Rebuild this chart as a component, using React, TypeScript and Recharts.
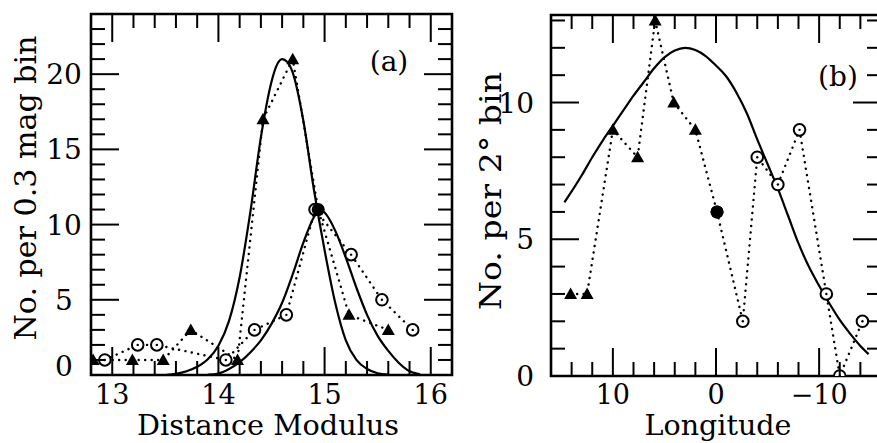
import React from 'react';
import { ComposedChart, Line, XAxis, YAxis, ReferenceArea } from 'recharts';

const FONT = '"DejaVu Serif", "Liberation Serif", serif';

// ---------- Panel (a): distance modulus ----------
const dmTriX = [12.82, 13.19, 13.48, 13.74, 14.18, 14.42, 14.7, 14.94, 15.23, 15.6];
const dmTriN = [1, 1, 1, 3, 1, 17, 21, 11, 4, 3];
const dmCircX = [12.93, 13.24, 13.42, 14.07, 14.34, 14.64, 14.91, 15.25, 15.54, 15.83];
const dmCircN = [1, 2, 2, 1, 3, 4, 11, 8, 5, 3];
const dmFit1X = [13.5, 13.6, 13.7, 13.8, 13.9, 14.0, 14.1, 14.2, 14.3, 14.4, 14.5, 14.55, 14.6, 14.65, 14.7, 14.8, 14.9, 15.0, 15.1, 15.2, 15.3, 15.4, 15.5, 15.6];
const dmFit1N = [0, 0.08, 0.25, 0.55, 1.05, 1.95, 3.6, 6.5, 10.8, 15.8, 19.5, 20.6, 21.0, 20.8, 20.1, 16.9, 12.3, 8.3, 4.8, 2.3, 1.0, 0.4, 0.12, 0.02];
const dmFit2X = [13.9, 14.0, 14.1, 14.2, 14.3, 14.4, 14.5, 14.6, 14.7, 14.8, 14.9, 14.95, 15.0, 15.1, 15.2, 15.3, 15.4, 15.5, 15.6, 15.7, 15.8, 15.9];
const dmFit2N = [0.02, 0.1, 0.4, 0.85, 1.5, 2.3, 3.4, 4.8, 6.7, 8.8, 10.5, 11.0, 10.8, 9.6, 7.8, 5.8, 4.0, 2.6, 1.6, 0.8, 0.25, 0.05];
const dmXDomain = [12.8, 16.2];
const dmYDomain = [0, 24];
const dmXTicks = [13, 13.2, 13.4, 13.6, 13.8, 14, 14.2, 14.4, 14.6, 14.8, 15, 15.2, 15.4, 15.6, 15.8, 16];
const dmXLabels = [13, 14, 15, 16];
const dmYTicks = [0, 1, 2, 3, 4, 5, 6, 7, 8, 9, 10, 11, 12, 13, 14, 15, 16, 17, 18, 19, 20, 21, 22, 23];
const dmYLabels = [0, 5, 10, 15, 20];

// ---------- Panel (b): longitude ----------
const lonTriX = [14.1, 12.5, 10.0, 7.6, 5.9, 4.1, 2.0, -0.1];
const lonTriN = [3, 3, 9, 8, 13, 10, 9, 6];
const lonCircX = [-0.1, -2.6, -4.0, -6.0, -8.1, -10.7, -12.0, -14.2];
const lonCircN = [6, 2, 8, 7, 9, 3, 0, 2];
const lonFitX = [14.7, 14, 13, 12, 11, 10, 9, 8, 7, 6, 5, 4, 3, 2, 1, 0, -1, -2, -3, -4, -5, -6, -7, -8, -9, -10, -11, -12, -13, -14, -14.8];
const lonFitN = [6.35, 6.75, 7.35, 8.0, 8.6, 9.15, 9.7, 10.25, 10.75, 11.25, 11.65, 11.9, 12.0, 11.92, 11.7, 11.35, 10.95, 10.35, 9.6, 8.65, 7.75, 6.85, 5.85, 4.85, 4.0, 3.3, 2.65, 2.05, 1.55, 1.1, 0.8];
const lonXDomain = [-16, 16];
const lonYDomain = [0, 13.2];
const lonXTicks = [-14, -12, -10, -8, -6, -4, -2, 0, 2, 4, 6, 8, 10, 12, 14];
const lonXLabels = [-10, 0, 10];
const lonYTicks = [0, 1, 2, 3, 4, 5, 6, 7, 8, 9, 10, 11, 12, 13];
const lonYLabels = [0, 5, 10];

const zip = (xs: number[], ys: number[]) => xs.map((x, i) => ({ x, y: ys[i] }));

const near = (v: number, list: number[]) => list.some((t) => Math.abs(t - v) < 1e-6);
const fmt = (v: number) => (v < 0 ? '\u2212' + String(-v) : String(v));

type Box = { left: number; right: number; top: number; bottom: number };

const makeXTick = (box: Box, labels: number[], baseline: number) => (props: any) => {
  const { x, payload } = props;
  const v = payload.value;
  const major = near(v, labels);
  const len = major ? 28 : 14;
  return (
    <g key={`xt-${v}`}>
      <line x1={x} x2={x} y1={box.bottom} y2={box.bottom - len} stroke="#000" strokeWidth={2} />
      <line x1={x} x2={x} y1={box.top} y2={box.top + len} stroke="#000" strokeWidth={2} />
      {major && (
        <text x={x} y={baseline} textAnchor="middle" fontFamily={FONT} fontSize={27} fill="#000">
          {fmt(v)}
        </text>
      )}
    </g>
  );
};

const makeYTick = (box: Box, labels: number[], lx: number, anchor: string, zeroShift: number) => (props: any) => {
  const { y, payload } = props;
  const v = payload.value;
  const major = near(v, labels);
  const len = major ? 28 : 14;
  return (
    <g key={`yt-${v}`}>
      <line x1={box.left} x2={box.left + len} y1={y} y2={y} stroke="#000" strokeWidth={2} />
      <line x1={box.right} x2={box.right - len} y1={y} y2={y} stroke="#000" strokeWidth={2} />
      {major && (
        <text x={lx} y={y + 10 - (v === 0 ? zeroShift : 0)} textAnchor={anchor as any} fontFamily={FONT} fontSize={28} fill="#000">
          {fmt(v)}
        </text>
      )}
    </g>
  );
};

const Tri = (cx: number, cy: number, key: string) => (
  <path key={key} d={`M${cx},${cy - 6.5} L${cx + 6.5},${cy + 5} L${cx - 6.5},${cy + 5} Z`} fill="#000" />
);
const OpenC = (cx: number, cy: number, key: string) => (
  <g key={key}>
    <circle cx={cx} cy={cy} r={5.8} fill="#fff" stroke="#000" strokeWidth={2} />
    <circle cx={cx} cy={cy} r={1.2} fill="#000" />
  </g>
);
const FillC = (cx: number, cy: number, key: string) => (
  <circle key={key} cx={cx} cy={cy} r={6.5} fill="#000" />
);

const dotLine = {
  stroke: '#000',
  strokeWidth: 2.4,
  strokeDasharray: '0.1 6.4',
  strokeLinecap: 'round' as const,
};

const boxA: Box = { left: 91, right: 452, top: 14, bottom: 375 };
const boxB: Box = { left: 91, right: 421, top: 15, bottom: 376 };

function PanelA() {
  const tri = zip(dmTriX, dmTriN);
  const circ = zip(dmCircX, dmCircN);
  const fit1 = zip(dmFit1X, dmFit1N);
  const fit2 = zip(dmFit2X, dmFit2N);
  return (
    <ComposedChart width={470} height={443} margin={{ top: 14, right: 18, bottom: 67, left: 90 }}>
      <XAxis
        type="number"
        dataKey="x"
        domain={dmXDomain}
        allowDataOverflow
        ticks={dmXTicks}
        interval={0}
        height={1}
        axisLine={false}
        tickLine={false}
        tick={makeXTick(boxA, dmXLabels, 404)}
      />
      <YAxis
        type="number"
        dataKey="y"
        domain={dmYDomain}
        allowDataOverflow
        ticks={dmYTicks}
        interval={0}
        width={1}
        axisLine={false}
        tickLine={false}
        tick={makeYTick(boxA, dmYLabels, 64, 'middle', 9)}
      />
      <Line data={fit1} dataKey="y" type="monotone" stroke="#000" strokeWidth={2.2} dot={false} isAnimationActive={false} />
      <Line data={fit2} dataKey="y" type="monotone" stroke="#000" strokeWidth={2.2} dot={false} isAnimationActive={false} />
      <Line
        data={circ}
        dataKey="y"
        type="linear"
        {...dotLine}
        isAnimationActive={false}
        dot={(p: any) => OpenC(p.cx, p.cy, `ca-${p.index}`)}
      />
      <Line
        data={tri}
        dataKey="y"
        type="linear"
        {...dotLine}
        isAnimationActive={false}
        dot={(p: any) => (p.index === 7 ? FillC(p.cx, p.cy, `ta-${p.index}`) : Tri(p.cx, p.cy, `ta-${p.index}`))}
      />
      <ReferenceArea x1={dmXDomain[0]} x2={dmXDomain[1]} y1={dmYDomain[0]} y2={dmYDomain[1]} fill="none" fillOpacity={0} stroke="#000" strokeWidth={2.6} ifOverflow="visible" />
    </ComposedChart>
  );
}

function PanelB() {
  const tri = zip(lonTriX, lonTriN);
  const circ = zip(lonCircX, lonCircN);
  const fit = zip(lonFitX, lonFitN);
  const lastTri = lonTriX.length - 1;
  return (
    <ComposedChart width={440} height={443} margin={{ top: 15, right: 19, bottom: 66, left: 90 }}>
      <XAxis
        type="number"
        dataKey="x"
        domain={lonXDomain}
        reversed
        allowDataOverflow
        ticks={lonXTicks}
        interval={0}
        height={1}
        axisLine={false}
        tickLine={false}
        tick={makeXTick(boxB, lonXLabels, 404)}
      />
      <YAxis
        type="number"
        dataKey="y"
        domain={lonYDomain}
        allowDataOverflow
        ticks={lonYTicks}
        interval={0}
        width={1}
        axisLine={false}
        tickLine={false}
        tick={makeYTick(boxB, lonYLabels, 74, 'end', 0)}
      />
      <Line data={fit} dataKey="y" type="monotone" stroke="#000" strokeWidth={2.2} dot={false} isAnimationActive={false} />
      <Line
        data={tri}
        dataKey="y"
        type="linear"
        {...dotLine}
        isAnimationActive={false}
        dot={(p: any) => (p.index === lastTri ? FillC(p.cx, p.cy, `tb-${p.index}`) : Tri(p.cx, p.cy, `tb-${p.index}`))}
      />
      <Line
        data={circ}
        dataKey="y"
        type="linear"
        {...dotLine}
        isAnimationActive={false}
        dot={(p: any) => (p.index === 0 ? FillC(p.cx, p.cy, `cb-${p.index}`) : OpenC(p.cx, p.cy, `cb-${p.index}`))}
      />
      <ReferenceArea x1={lonXDomain[0]} x2={lonXDomain[1]} y1={lonYDomain[0]} y2={lonYDomain[1]} fill="none" fillOpacity={0} stroke="#000" strokeWidth={2.6} ifOverflow="visible" />
    </ComposedChart>
  );
}

export default function App() {
  return (
    <div style={{ position: 'fixed', left: 0, top: 0, width: 877, height: 443, overflow: 'hidden', background: '#fff' }}>
      <div style={{ position: 'absolute', left: 0, top: 0 }}>
        <PanelA />
      </div>
      <div style={{ position: 'absolute', left: 460, top: 0 }}>
        <PanelB />
      </div>
      <svg width={877} height={443} style={{ position: 'absolute', left: 0, top: 0, pointerEvents: 'none' }}>
        <text x={36} y={188} transform="rotate(-90 36 188)" textAnchor="middle" fontFamily={FONT} fontSize={30} textLength={305} lengthAdjust="spacingAndGlyphs" fill="#000">
          No. per 0.3 mag bin
        </text>
        <text x={268} y={435} textAnchor="middle" fontFamily={FONT} fontSize={28} textLength={262} lengthAdjust="spacingAndGlyphs" fill="#000">
          Distance Modulus
        </text>
        <text x={389} y={71} textAnchor="middle" fontFamily={FONT} fontSize={28} fill="#000">
          (a)
        </text>
        <text x={501} y={191} transform="rotate(-90 501 191)" textAnchor="middle" fontFamily={FONT} fontSize={30} textLength={238} lengthAdjust="spacingAndGlyphs" fill="#000">
          No. per 2° bin
        </text>
        <text x={718} y={435} textAnchor="middle" fontFamily={FONT} fontSize={28} textLength={147} lengthAdjust="spacingAndGlyphs" fill="#000">
          Longitude
        </text>
        <text x={838} y={86} textAnchor="middle" fontFamily={FONT} fontSize={28} fill="#000">
          (b)
        </text>
      </svg>
    </div>
  );
}
